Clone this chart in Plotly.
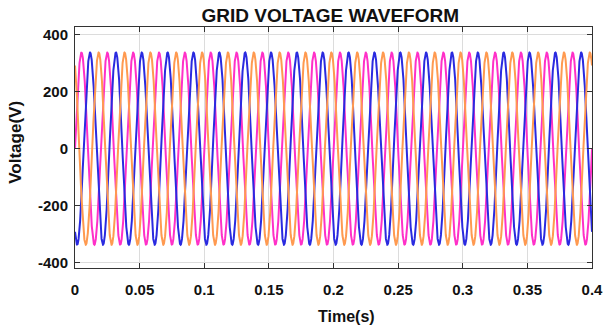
import numpy as np
import plotly.graph_objects as go

# Values
phase_names = ["Phase A", "Phase B", "Phase C"]
phase_colors = ["#ff30c8", "#2a2ae0", "#ff9a50"]
amplitudes = [338, 338, 338]          # peak voltage (V)
phase_angles_deg = [0, -120, 120]     # phase shift (degrees)
frequency_hz = 50
t_start, t_end = 0.0, 0.4

x_tick_vals = [0, 0.05, 0.1, 0.15, 0.2, 0.25, 0.3, 0.35, 0.4]
x_tick_text = ["0", "0.05", "0.1", "0.15", "0.2", "0.25", "0.3", "0.35", "0.4"]
y_tick_vals = [-400, -200, 0, 200, 400]
y_tick_text = ["-400", "-200", "0", "200", "400"]

t = np.linspace(t_start, t_end, 6001)

fig = go.Figure()
for name, col, amp, ph in zip(phase_names, phase_colors, amplitudes, phase_angles_deg):
    v = amp * np.sin(2 * np.pi * frequency_hz * t + np.deg2rad(ph))
    fig.add_trace(go.Scatter(x=t, y=v, mode="lines", name=name,
                             line=dict(color=col, width=2)))

FAM = "Liberation Sans, Arial, sans-serif"
tickfont = dict(family=FAM, size=15, color="#111", weight="bold")

fig.update_layout(
    width=606, height=333,
    margin=dict(l=75, r=14, t=27, b=65),
    paper_bgcolor="white", plot_bgcolor="white",
    showlegend=False,
    title=dict(text="GRID VOLTAGE WAVEFORM", x=0.545, xanchor="center", y=0.953, yanchor="middle",
               font=dict(family=FAM, size=19, color="#111", weight="bold")),
    annotations=[
        dict(text="Time(s)", xref="paper", yref="paper", x=0.525, y=-0.2,
             xanchor="center", yanchor="middle", showarrow=False,
             font=dict(family=FAM, size=16, color="#111", weight="bold")),
        dict(text="Voltage(V)", xref="paper", yref="paper", x=-0.114, y=0.52,
             xanchor="center", yanchor="middle", showarrow=False, textangle=-90,
             font=dict(family=FAM, size=17, color="#111", weight="bold")),
    ],
)
fig.update_xaxes(
    range=[t_start, t_end], tickvals=x_tick_vals, ticktext=x_tick_text,
    showgrid=True, gridcolor="#dcdcdc", gridwidth=1,
    showline=True, linecolor="#333", linewidth=1, mirror="ticks",
    ticks="inside", ticklen=5, tickcolor="#333",
    zeroline=False, tickfont=tickfont, ticklabelstandoff=8,
    automargin=False, ticklabeloverflow="allow",
)
fig.update_yaxes(
    range=[-420, 428], tickvals=y_tick_vals, ticktext=y_tick_text,
    showgrid=True, gridcolor="#dcdcdc", gridwidth=1,
    showline=True, linecolor="#333", linewidth=1, mirror="ticks",
    ticks="inside", ticklen=5, tickcolor="#333",
    zeroline=False, tickfont=tickfont, ticklabelstandoff=3,
    automargin=False,
)

fig.write_html("out.html")
